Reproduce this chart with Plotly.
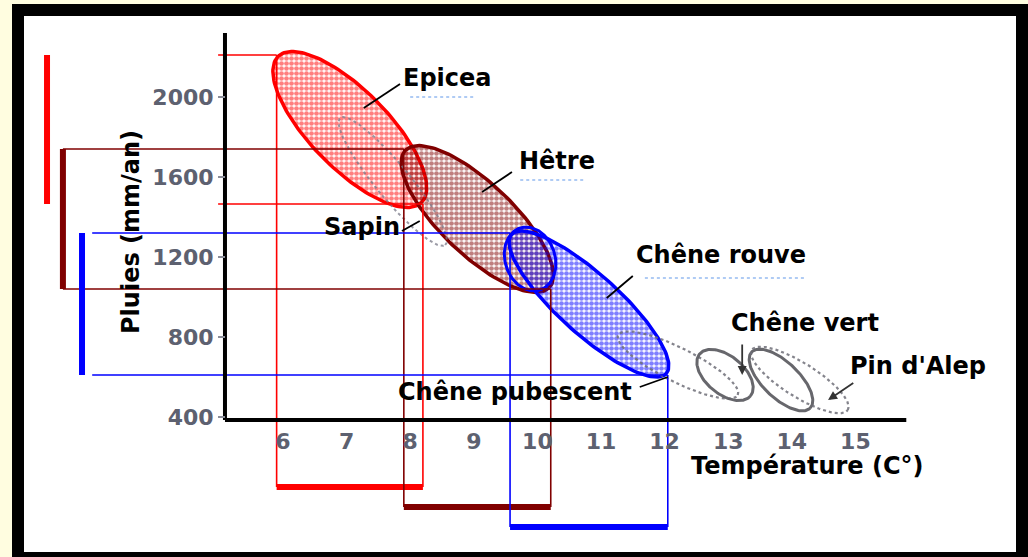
import numpy as np
import plotly.graph_objects as go

# ---------------- data ----------------
# main species: temperature (°C) and rainfall (mm/an) ranges
main_species = ["Epicea", "Hêtre", "Chêne rouve"]
temp_min = [5.9, 7.9, 9.57]
temp_max = [8.2, 10.21, 12.05]
rain_min = [1465, 1040, 610]
rain_max = [2210, 1740, 1320]

# other outlined areas: tips of each ellipse (temp, rain)
other_names = ["Sapin", "Chêne pubescent", "Chêne vert A", "Chêne vert B", "Pin d'Alep", "recouvrement"]
other_t1 = [6.9, 11.27, 12.55, 13.37, 13.37, 9.73]
other_r1 = [1895, 810, 715, 725, 735, 1345]
other_t2 = [8.55, 13.15, 13.35, 14.29, 14.88, 10.04]
other_r2 = [1260, 510, 505, 445, 435, 1035]

x_ticks = [6, 7, 8, 9, 10, 11, 12, 13, 14, 15]
y_ticks = [400, 800, 1200, 1600, 2000]

# labels (text, temp, rain)
label_text = ["Epicea", "Hêtre", "Chêne rouve", "Sapin", "Chêne pubescent", "Chêne vert", "Pin d'Alep"]
label_t = [8.59, 10.31, 12.89, 7.24, 9.65, 14.21, 15.98]
label_r = [2095, 1680, 1210, 1350, 525, 870, 655]

# pointer lines (from label to area)
ptr_t0 = [7.84, 9.60, 11.50, 7.87, 11.61]
ptr_r0 = [2065, 1625, 1105, 1330, 550]
ptr_t1 = [7.27, 9.13, 11.09, 8.15, 12.05]
ptr_r1 = [1945, 1525, 995, 1380, 600]
# arrows (tail -> head)
arr_t0 = [13.22, 14.99]
arr_r0 = [770, 575]
arr_t1 = [13.22, 14.57]
arr_r1 = [610, 485]

# ---------------- layout / style ----------------
W, H = 1028, 557
ML, MR, MT, MB = 24, 12, 16, 5
PW, PH = W - ML - MR, H - MT - MB
X_RANGE = [1.928, 17.525]
Y_RANGE = [-275, 2405]
kx = PW / (X_RANGE[1] - X_RANGE[0])
ky = PH / (Y_RANGE[1] - Y_RANGE[0])

colors = ["#ff0000", "#800000", "#0000ff"]
semi_minor_px = [39, 36, 30]
bar_x = [2.29, 2.54, 2.84]          # left range bars (temp units)
h_start = [4.98, 2.54, 3.0]         # start of thin horizontal guides
bar_y = [50, -50, -150]             # bottom range bars (rain units)
axis_t0, axis_t1 = 5.088, 15.8
axis_r0, axis_r1 = 385, 2320

other_style = [
    dict(color="rgba(120,120,135,0.75)", dash="dot", width=2, b=17),
    dict(color="rgba(110,110,120,0.85)", dash="dot", width=2.2, b=17),
    dict(color="rgba(95,95,100,0.95)", dash="solid", width=3, b=19),
    dict(color="rgba(95,95,100,0.95)", dash="solid", width=3, b=18),
    dict(color="rgba(110,110,120,0.85)", dash="dot", width=2.2, b=17),
    dict(color="#0000ff", dash="solid", width=3, b=25),
]


def ellipse(t1, r1, t2, r2, b_px, shrink=1.0, n=160):
    u1, v1, u2, v2 = t1 * kx, r1 * ky, t2 * kx, r2 * ky
    cu, cv = (u1 + u2) / 2, (v1 + v2) / 2
    du, dv = u2 - u1, v2 - v1
    L = np.hypot(du, dv)
    a = L / 2 * shrink
    eu, ev = du / L, dv / L
    nu, nv = -ev, eu
    th = np.linspace(0, 2 * np.pi, n)
    u = cu + a * np.cos(th) * eu + b_px * np.sin(th) * nu
    v = cv + a * np.cos(th) * ev + b_px * np.sin(th) * nv
    return u / kx, v / ky


fig = go.Figure()

# stippled species areas
for i, name in enumerate(main_species):
    ex, ey = ellipse(temp_min[i], rain_max[i], temp_max[i], rain_min[i], semi_minor_px[i], shrink=0.98)
    fig.add_trace(go.Scatter(
        x=ex, y=ey, mode="lines", fill="toself",
        fillcolor="rgba(0,0,0,0)",
        fillpattern=dict(shape=".", fgcolor=colors[i], size=5, solidity=0.7),
        line=dict(color=colors[i], width=3.5),
        hoverinfo="skip", showlegend=False, name=name))

# other outlined areas
for j, name in enumerate(other_names):
    st = other_style[j]
    ex, ey = ellipse(other_t1[j], other_r1[j], other_t2[j], other_r2[j], st["b"])
    fig.add_trace(go.Scatter(
        x=ex, y=ey, mode="lines",
        line=dict(color=st["color"], width=st["width"], dash=st["dash"]),
        hoverinfo="skip", showlegend=False, name=name))

# guide lines and range bars
for i, name in enumerate(main_species):
    c = colors[i]
    gx = [h_start[i], temp_min[i], None, h_start[i], temp_max[i], None,
          temp_min[i], temp_min[i], None, temp_max[i], temp_max[i]]
    gy = [rain_max[i], rain_max[i], None, rain_min[i], rain_min[i], None,
          rain_max[i], bar_y[i], None, rain_min[i], bar_y[i]]
    fig.add_trace(go.Scatter(x=gx, y=gy, mode="lines", line=dict(color=c, width=1.6),
                             hoverinfo="skip", showlegend=False))
    fig.add_trace(go.Scatter(x=[bar_x[i], bar_x[i], None, temp_min[i], temp_max[i]],
                             y=[rain_min[i], rain_max[i], None, bar_y[i], bar_y[i]],
                             mode="lines", line=dict(color=c, width=6),
                             hoverinfo="skip", showlegend=False))

# axis lines
fig.add_trace(go.Scatter(x=[axis_t0, axis_t0, None, axis_t0, axis_t1],
                         y=[axis_r1, axis_r0, None, axis_r0, axis_r0],
                         mode="lines", line=dict(color="black", width=4),
                         hoverinfo="skip", showlegend=False))

# faint dotted under-lines near labels (scan artefacts)
fig.add_trace(go.Scatter(x=[8.0, 9.02, None, 9.73, 10.72, None, 11.69, 14.2],
                         y=[2000, 2000, None, 1585, 1585, None, 1095, 1095],
                         mode="lines", line=dict(color="rgba(110,160,235,0.55)", width=2, dash="dot"),
                         hoverinfo="skip", showlegend=False))

# pointer lines
px_, py_ = [], []
for k in range(len(ptr_t0)):
    px_ += [ptr_t0[k], ptr_t1[k], None]
    py_ += [ptr_r0[k], ptr_r1[k], None]
fig.add_trace(go.Scatter(x=px_, y=py_, mode="lines", line=dict(color="black", width=1.8),
                         hoverinfo="skip", showlegend=False))

annotations = []
lab_font = dict(family="DejaVu Sans", size=24, color="black", weight="bold")
for k, txt in enumerate(label_text):
    annotations.append(dict(x=label_t[k], y=label_r[k], xref="x", yref="y", text=txt,
                            showarrow=False, font=lab_font, xanchor="center", yanchor="middle"))
for k in range(len(arr_t0)):
    annotations.append(dict(x=arr_t1[k], y=arr_r1[k], ax=arr_t0[k], ay=arr_r0[k],
                            xref="x", yref="y", axref="x", ayref="y", text="",
                            showarrow=True, arrowhead=2, arrowsize=1, arrowwidth=1.8,
                            arrowcolor="#333"))
annotations.append(dict(x=14.24, y=155, xref="x", yref="y", text="Température (C°)",
                        showarrow=False, font=lab_font))
annotations.append(dict(x=3.61, y=1325, xref="x", yref="y", text="Pluies (mm/an)",
                        showarrow=False, font=lab_font, textangle=-90))


def pxp(x):
    return (x - ML) / PW


def pyp(y):
    return (H - MB - y) / PH


frame = [(12, 4, 24, 557), (12, 4, 1028, 16), (1016, 4, 1028, 557), (12, 552, 1028, 557)]
shapes = [dict(type="rect", xref="paper", yref="paper", x0=pxp(a), x1=pxp(c), y0=pyp(d), y1=pyp(b),
               fillcolor="black", line=dict(width=0), layer="above") for (a, b, c, d) in frame]

tick_font = dict(family="DejaVu Sans", size=22, color="#5d6170", weight="bold")
fig.update_layout(
    width=W, height=H,
    margin=dict(l=ML, r=MR, t=MT, b=MB, pad=0),
    paper_bgcolor="#fffde0",
    plot_bgcolor="white",
    showlegend=False,
    annotations=annotations,
    shapes=shapes,
    xaxis=dict(range=X_RANGE, anchor="free", position=pyp(420), showgrid=False, zeroline=False,
               showline=False, tickmode="array", tickvals=x_ticks,
               ticktext=[str(v) for v in x_ticks], ticks="outside", ticklen=2,
               tickcolor="rgba(0,0,0,0)", tickfont=tick_font, automargin=False, fixedrange=True),
    yaxis=dict(range=Y_RANGE, anchor="free", position=pxp(225), showgrid=False, zeroline=False,
               showline=False, tickmode="array", tickvals=y_ticks,
               ticktext=[str(v) for v in y_ticks], ticks="outside", ticklen=7, tickwidth=2,
               tickcolor="#8a8d99", tickfont=tick_font, automargin=False, fixedrange=True),
)

fig.write_html(
    "out.html",
    config={"displayModeBar": False},
    post_script="document.body.style.margin='0';document.body.style.background='#fffde0';"
                "document.body.style.overflow='hidden';",
)
